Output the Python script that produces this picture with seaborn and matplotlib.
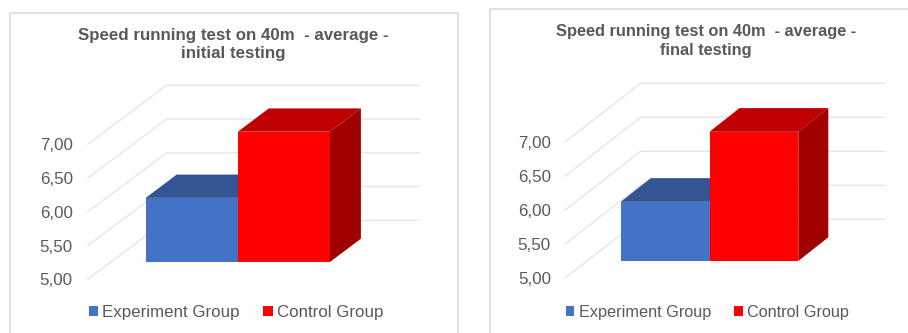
import matplotlib
matplotlib.use("Agg")
import matplotlib.pyplot as plt
import pandas as pd
import seaborn as sns
from matplotlib.lines import Line2D
from matplotlib.patches import Patch, Polygon

groups = ["Experiment Group", "Control Group"]
initial_values = [5.95, 6.93]
final_values = [5.87, 6.90]
y_ticks = [5.0, 5.5, 6.0, 6.5, 7.0]
y_tick_labels = ["5,00", "5,50", "6,00", "6,50", "7,00"]
title_initial = "Speed running test on 40m  - average -\ninitial testing"
title_final = "Speed running test on 40m  - average -\nfinal testing"

W, H = 908, 333
TEXT = "#595959"
GRID = "#E6E6E6"
FRAME = "#D9D9D9"
FACE = {"Experiment Group": "#4472C4", "Control Group": "#FF0000"}
TOP = {"Experiment Group": "#335593", "Control Group": "#C00000"}
SIDE = {"Experiment Group": "#28457A", "Control Group": "#A00000"}

sns.set_theme(style="white")
plt.rcParams["font.family"] = ["Liberation Sans", "DejaVu Sans"]
fig = plt.figure(figsize=(W / 100, H / 100), dpi=100, facecolor="white")


def frame(x0, y0, x1):
    # Thin chart-area border; it runs off the bottom of the figure.
    xs = [x0 / W, x0 / W, x1 / W, x1 / W]
    ys = [0, 1 - y0 / H, 1 - y0 / H, 0]
    fig.add_artist(Line2D(xs, ys, color=FRAME, lw=1.1))


def panel(values, title, geo):
    """Draw one pseudo-3D column chart; geo holds its pixel layout."""
    left, right = geo["wall_x"], geo["end_x"]
    y5, y7 = geo["y5"], geo["y7"]
    ax = fig.add_axes([left / W, 1 - y5 / H, (right - left) / W, (y5 - y7) / H])
    ax.patch.set_alpha(0)

    df = pd.DataFrame({"group": groups, "value": values})
    sns.barplot(data=df, x="group", y="value", hue="group", order=groups,
                hue_order=groups, palette=FACE, saturation=1, width=1,
                dodge=False, legend=False, ax=ax, zorder=5)

    px_x = geo["bar_px"]
    px_y = (y5 - y7) / 2
    x_min = -0.5 - (geo["bar_x"] - left) / px_x
    ax.set_xlim(x_min, x_min + (right - left) / px_x)
    ax.set_ylim(5, 7)

    # Horizontal walls: a slanted floor edge joined to a line on the back wall.
    wall_dx = geo["wall_dx"] / px_x
    wall_dy = geo["wall_dy"] / px_y
    x_back = x_min + wall_dx
    x_end = x_min + (right - left) / px_x
    for v in y_ticks:
        ax.plot([x_min, x_back, x_end], [v, v + wall_dy, v + wall_dy],
                color=GRID, lw=1.0, clip_on=False, zorder=1, solid_joinstyle="miter")

    # Columns stand on a floor plane raised above the 5,00 wall edge.
    lift = (y5 - geo["bar_base"]) / px_y
    dx = geo["depth_dx"] / px_x
    dy = geo["depth_dy"] / px_y
    for bar, group, v in zip(ax.patches, groups, values):
        bar.set_y(5 + lift)
        bar.set_height(v - 5)
        bar.set_clip_on(False)
        bar.set_linewidth(0)
        x0 = bar.get_x()
        x1 = x0 + bar.get_width()
        low, high = 5 + lift, v + lift
        ax.add_patch(Polygon([(x0, high), (x1, high), (x1 + dx, high + dy), (x0 + dx, high + dy)],
                             facecolor=TOP[group], lw=0, clip_on=False, zorder=3))
        ax.add_patch(Polygon([(x1, low), (x1, high), (x1 + dx, high + dy), (x1 + dx, low + dy)],
                             facecolor=SIDE[group], lw=0, clip_on=False,
                             zorder=2 if group == groups[0] else 4))
    ax.patches[0].set_zorder(3.5)
    ax.patches[1].set_zorder(5)

    ax.set_yticks(y_ticks, y_tick_labels)
    ax.set_xticks([])
    ax.set_xlabel("")
    ax.set_ylabel("")
    ax.tick_params(axis="y", length=0, pad=geo["pad"], labelsize=12.2, labelcolor=TEXT)
    sns.despine(ax=ax, left=True, bottom=True, right=True, top=True)

    fig.text(geo["title_x"] / W, 1 - geo["title_y"] / H, title, ha="center", va="center",
             fontsize=geo["title_size"], fontweight="bold", color=TEXT, linespacing=1.3)

    handles = [Patch(facecolor=FACE[g], edgecolor="none", label=g) for g in groups]
    fig.legend(handles=handles, loc="center left", ncol=2, frameon=False,
               bbox_to_anchor=(geo["legend_x"] / W, 1 - 312.5 / H), borderaxespad=0, borderpad=0,
               fontsize=geo["legend_size"], labelcolor=TEXT, handlelength=0.54, handleheight=0.54,
               handletextpad=0.26, columnspacing=1.41)


frame(10, 13, 458)
frame(490, 9, 915)

panel(initial_values, title_initial,
      dict(wall_x=87.7, end_x=419.3, y5=279.3, y7=144.3, bar_x=145.7, bar_px=92.1,
           bar_base=262, wall_dx=79, wall_dy=59, depth_dx=31, depth_dy=23.3, pad=10.8,
           title_x=233.7, title_y=44.5, title_size=12.2, legend_x=88.5, legend_size=12.2))
panel(final_values, title_final,
      dict(wall_x=564.7, end_x=885, y5=278.3, y7=142.3, bar_x=620.7, bar_px=88.8,
           bar_base=261, wall_dx=76, wall_dy=59, depth_dx=30, depth_dy=23.7, pad=10.0,
           title_x=705.7, title_y=41, title_size=11.8, legend_x=565.7, legend_size=11.7))

fig.savefig("out.png", dpi=100, facecolor="white")
